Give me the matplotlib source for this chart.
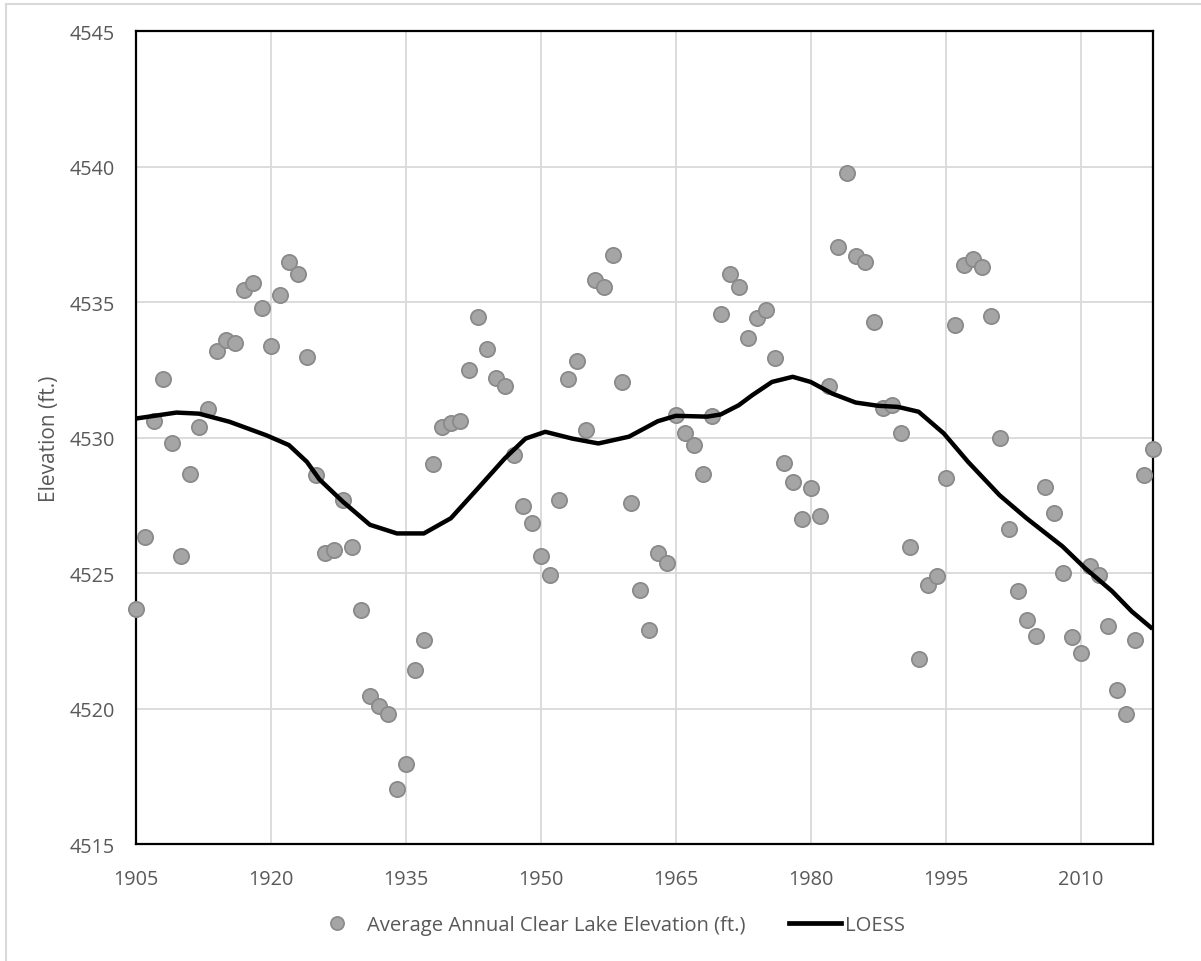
import numpy as np
import matplotlib.pyplot as plt
from matplotlib.lines import Line2D

# ---------------- Data ----------------
years = list(range(1905, 2019))
elevation = [
    4523.68, 4526.32, 4530.60, 4532.17, 4529.78, 4525.62, 4528.65, 4530.37, 4531.04, 4533.18,  # 1905-1914
    4533.61, 4533.49, 4535.43, 4535.71, 4534.79, 4533.36, 4535.24, 4536.47, 4536.03, 4532.96,  # 1915-1924
    4528.61, 4525.72, 4525.85, 4527.69, 4525.95, 4523.63, 4520.46, 4520.11, 4519.78, 4517.02,  # 1925-1934
    4517.96, 4521.41, 4522.54, 4529.04, 4530.39, 4530.52, 4530.60, 4532.48, 4534.45, 4533.25,  # 1935-1944
    4532.21, 4531.90, 4529.37, 4527.47, 4526.85, 4525.62, 4524.94, 4527.69, 4532.17, 4532.81,  # 1945-1954
    4530.27, 4535.83, 4535.55, 4536.72, 4532.05, 4527.57, 4524.36, 4522.91, 4525.74, 4525.37,  # 1955-1964
    4530.82, 4530.17, 4529.72, 4528.65, 4530.78, 4534.55, 4536.03, 4535.57, 4533.67, 4534.42,  # 1965-1974
    4534.72, 4532.95, 4529.07, 4528.37, 4526.98, 4528.15, 4527.11, 4531.90, 4537.02, 4539.75,  # 1975-1984
    4536.69, 4536.47, 4534.25, 4531.09, 4531.19, 4530.18, 4525.95, 4521.83, 4524.55, 4524.90,  # 1985-1994
    4528.51, 4534.16, 4536.35, 4536.57, 4536.29, 4534.48, 4530.00, 4526.62, 4524.33, 4523.28,  # 1995-2004
    4522.69, 4528.16, 4527.21, 4525.00, 4522.64, 4522.05, 4525.27, 4524.94, 4523.06, 4520.70,  # 2005-2014
    4519.78, 4522.51, 4528.61, 4529.56,                                                        # 2015-2018
]

loess_years = [1905, 1909.5, 1912, 1915.4, 1919.5, 1922, 1924, 1925.4, 1928, 1931,
               1934, 1937, 1940, 1943, 1946, 1948.3, 1950.5, 1953.5, 1956.4, 1959.8,
               1963, 1965, 1968.5, 1970, 1972, 1973.5, 1975.7, 1978, 1980, 1982.4,
               1985, 1987.5, 1989.7, 1992, 1994.8, 1997.5, 2001, 2004, 2008, 2010.5,
               2013.5, 2015.7, 2018]
loess_vals = [4530.70, 4530.92, 4530.88, 4530.58, 4530.08, 4529.72, 4529.10, 4528.45, 4527.63, 4526.78,
              4526.46, 4526.46, 4527.02, 4528.12, 4529.23, 4529.96, 4530.21, 4529.96, 4529.78, 4530.03,
              4530.60, 4530.80, 4530.77, 4530.85, 4531.19, 4531.56, 4532.05, 4532.24, 4532.05, 4531.62,
              4531.29, 4531.17, 4531.13, 4530.95, 4530.15, 4529.10, 4527.87, 4527.02, 4525.98, 4525.18,
              4524.33, 4523.58, 4522.94]

x_ticks = [1905, 1920, 1935, 1950, 1965, 1980, 1995, 2010]
y_ticks = [4515, 4520, 4525, 4530, 4535, 4540, 4545]

# ---------------- Figure ----------------
plt.rcParams['font.family'] = ['Open Sans', 'DejaVu Sans']
text_grey = "#595959"

fig = plt.figure(figsize=(12.01, 9.62), dpi=100)
ax = fig.add_axes([136 / 1201, 1 - 845 / 962, (1152.5 - 136) / 1201, (845 - 32) / 962])

ax.set_xlim(1905, 2018)
ax.set_ylim(4515, 4545)
ax.set_xticks(x_ticks)
ax.set_yticks(y_ticks)
ax.grid(True, color="#d9d9d9", linewidth=1.3)
ax.set_axisbelow(True)
ax.tick_params(length=0, labelsize=14.3, colors=text_grey)
ax.tick_params(axis="x", pad=18)
ax.tick_params(axis="y", pad=15)
for s in ax.spines.values():
    s.set_color("black")
    s.set_linewidth(1.6)

ax.scatter(years, elevation, s=120, color="#a5a5a5", edgecolors="#8a8a8a",
           linewidths=1.3, zorder=3, clip_on=False)
ax.plot(loess_years, loess_vals, color="black", linewidth=3.2, zorder=4,
        solid_capstyle="butt", solid_joinstyle="round")

ax.set_ylabel("Elevation (ft.)", color=text_grey, fontsize=15, labelpad=7)

# chart-area frame (only top/left visible in the original)
fig.add_artist(Line2D([6 / 1201, 6 / 1201], [0, 1 - 5 / 962], color="#d9d9d9", linewidth=1.5))
fig.add_artist(Line2D([6 / 1201, 1], [1 - 5 / 962, 1 - 5 / 962], color="#d9d9d9", linewidth=1.5))

# ---------------- Legend ----------------
handles = [
    Line2D([], [], marker="o", linestyle="none", markersize=9.5,
           markerfacecolor="#a5a5a5", markeredgecolor="#8a8a8a", markeredgewidth=1.2),
    Line2D([], [], color="black", linewidth=3.4),
]
fig.legend(handles, ["Average Annual Clear Lake Elevation (ft.)", "LOESS"],
           loc="center", bbox_to_anchor=(608 / 1201, 1 - 926 / 962), ncol=2,
           frameon=False, fontsize=14.6, labelcolor=text_grey,
           handlelength=2.56, handletextpad=0.2, columnspacing=2.15)

fig.savefig("out.png", dpi=100)
